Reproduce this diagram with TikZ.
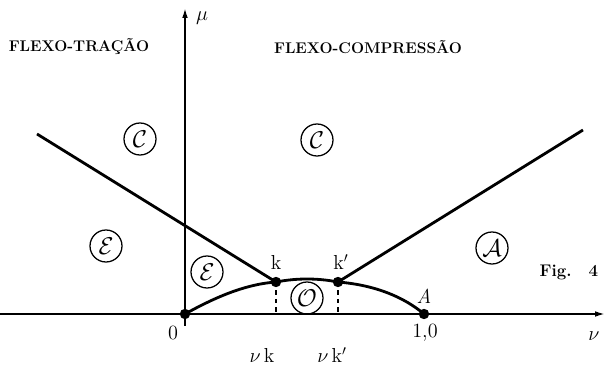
\documentclass[tikz,border=0pt]{standalone}
\usepackage{amsmath, amssymb}
\usepackage{xcolor}
\usetikzlibrary{calc,arrows.meta}

\begin{document}
\begin{tikzpicture}[
  axis/.style={line width=1.2pt,-{Latex[length=7pt,width=4pt]}},
  bound/.style={line width=2pt},
  region/.style={draw,circle,line width=0.9pt,inner sep=0pt,minimum size=0.8cm,font=\LARGE},
  lbl/.style={font=\Large},
  title/.style={font=\bfseries\fontsize{11}{13}\selectfont}]
\useasboundingbox (-4.625,-1.3) rectangle (10.575,7.85);
% axes
\coordinate (O) at (0,0);
\coordinate (xl) at (-4.625,0);
\coordinate (xr) at (10.5,0);
\coordinate (yb) at (0,-0.3);
\coordinate (yt) at (0,7.65);
\draw[axis] (xl) -- (xr);
\draw[axis] (yb) -- (yt);
\node[lbl] (mu) at (0.425,7.4) {$\mu$};
\node[lbl] (nu) at (10.225,-0.55) {$\nu$};
% points of the boundary
\coordinate (k) at (2.275,0.8);
\coordinate (kp) at (3.825,0.8);
\coordinate (A) at (5.975,0);
\coordinate (vk) at (2.275,0);
\coordinate (vkp) at (3.825,0);
\coordinate (ls) at (-3.7,4.5);
\coordinate (re) at (9.95,4.6);
\draw[bound] (ls) -- (k);
\draw[bound] (kp) -- (re);
\draw[bound] (O) .. controls (0.9,0.5) and (1.6,0.75) .. (k)
  .. controls (2.8,0.9) and (3.3,0.9) .. (kp)
  .. controls (4.8,0.72) and (5.5,0.4) .. (A);
\draw[dashed,line width=1pt] (k) -- (vk);
\draw[dashed,line width=1pt] (kp) -- (vkp);
\foreach \p in {O,k,kp,A} \fill (\p) circle (0.13);
% labels
\node[lbl] (lk) at (2.275,1.3) {k};
\node[lbl] (lkp) at (3.9,1.3) {k$'$};
\node[lbl] (lA) at (5.975,0.45) {\textit{A}};
\node[lbl] (l0) at (-0.3,-0.475) {0};
\node[lbl] (l1) at (6.0,-0.475) {1,0};
\node[lbl] (lvk) at (1.925,-1.025) {$\nu$\,k};
\node[lbl] (lvkp) at (3.675,-1.025) {$\nu$\,k$'$};
% regions
\node[region] (C1) at (-1.125,4.375) {$\mathcal{C}$};
\node[region] (C2) at (3.3,4.35) {$\mathcal{C}$};
\node[region] (E1) at (-1.975,1.7) {$\mathcal{E}$};
\node[region] (E2) at (0.55,1.05) {$\mathcal{E}$};
\node[region] (O1) at (3.05,0.4) {$\mathcal{O}$};
\node[region] (A1) at (7.675,1.65) {$\mathcal{A}$};
\node[title] (tt) at (-2.65,6.675) {FLEXO-TRAÇÃO};
\node[title] (tc) at (4.575,6.675) {FLEXO-COMPRESSÃO};
\node[font=\bfseries\large,anchor=east] (fig) at (10.45,1.05) {Fig.\quad 4};
\end{tikzpicture}
\end{document}
